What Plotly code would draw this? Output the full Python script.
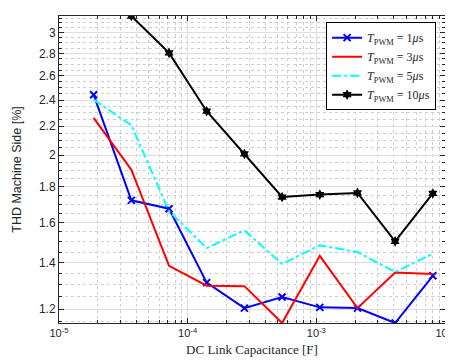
import plotly.graph_objects as go
import numpy as np

# ---- data ----
cap = [1.858e-5, 3.649e-5, 7.166e-5, 1.405e-4, 2.759e-4, 5.418e-4,
       1.064e-3, 2.089e-3, 4.096e-3, 8.04e-3]
thd_1us = [2.443, 1.721, 1.674, 1.310, 1.204, 1.249, 1.207, 1.204, 1.146, 1.340]
thd_3us = [2.262, 1.905, 1.385, 1.297, 1.295, 1.146, 1.432, 1.204, 1.355, 1.348]
thd_5us = [2.403, 2.208, 1.660, 1.469, 1.558, 1.394, 1.483, 1.450, 1.357, 1.442]
cap_10us = cap[1:]
thd_10us = [3.171, 2.806, 2.313, 2.007, 1.740, 1.754, 1.764, 1.502, 1.761]

names = ["<i>T</i><sub>PWM</sub> = 1<i>μ</i>s",
         "<i>T</i><sub>PWM</sub> = 3<i>μ</i>s",
         "<i>T</i><sub>PWM</sub> = 5<i>μ</i>s",
         "<i>T</i><sub>PWM</sub> = 10<i>μ</i>s"]

x_ticks = [1e-5, 1e-4, 1e-3, 1e-2]
x_ticktext = ["10<sup>-5</sup>", "10<sup>-4</sup>", "10<sup>-3</sup>", "10<sup>-2</sup>"]
y_ticks = [1.2, 1.4, 1.6, 1.8, 2.0, 2.2, 2.4, 2.6, 2.8, 3.0]
y_ticktext = ["1.2", "1.4", "1.6", "1.8", "2", "2.2", "2.4", "2.6", "2.8", "3"]
x_minor = [m * 10.0 ** e for e in (-5, -4, -3) for m in range(2, 10)]
y_minor = [round(1.15 + 0.05 * i, 2) for i in range(0, 41)]

fig = go.Figure()
fig.add_trace(go.Scatter(x=cap, y=thd_1us, mode="lines+markers", name=names[0],
                         line=dict(color="#0000ff", width=2),
                         marker=dict(symbol="x-thin", size=7, line=dict(color="#0000ff", width=2))))
fig.add_trace(go.Scatter(x=cap, y=thd_3us, mode="lines", name=names[1],
                         line=dict(color="#ff0000", width=2)))
fig.add_trace(go.Scatter(x=cap, y=thd_5us, mode="lines", name=names[2],
                         line=dict(color="#00ffff", width=2, dash="dashdot")))
fig.add_trace(go.Scatter(x=cap_10us, y=thd_10us, mode="lines+markers", name=names[3],
                         line=dict(color="#000000", width=2),
                         marker=dict(symbol="hexagram", size=8, color="#000000")))

all_y = thd_1us + thd_3us + thd_5us + thd_10us
ymin, ymax = min(all_y), max(all_y)

axcol = "#262626"
fig.update_layout(
    width=453, height=362,
    margin=dict(l=51, r=16, t=8, b=47, autoexpand=False),
    plot_bgcolor="white", paper_bgcolor="white",
    font=dict(family="Liberation Sans, Arial", size=12, color=axcol),
    showlegend=True,
    legend=dict(x=0.977, y=0.98, xanchor="right", yanchor="top",
                bgcolor="white", bordercolor="#000000", borderwidth=1,
                font=dict(family="Liberation Serif, Times New Roman", size=12, color=axcol),
                tracegroupgap=0, itemwidth=30),
    xaxis=dict(type="log", range=[-5, -2], automargin=False,
               tickmode="array", tickvals=x_ticks, ticktext=x_ticktext,
               ticks="inside", ticklen=5, tickcolor=axcol,
               showline=True, linecolor=axcol, linewidth=1, mirror="allticks",
               showgrid=True, gridcolor="#dedede", gridwidth=1,
               zeroline=False,
               tickfont=dict(family="Liberation Sans, Arial", size=11, color=axcol),
               minor=dict(tickmode="array", tickvals=x_minor, ticks="inside", ticklen=3,
                          tickcolor=axcol, showgrid=True, gridcolor="#cfcfcf", griddash="dot"),
               title=dict(text="DC Link Capacitance [F]", standoff=6,
                          font=dict(family="Liberation Serif, Times New Roman", size=13, color=axcol))),
    yaxis=dict(type="log", range=[np.log10(ymin), np.log10(ymax)], automargin=False,
               tickmode="array", tickvals=y_ticks, ticktext=y_ticktext,
               ticks="inside", ticklen=5, tickcolor=axcol,
               showline=True, linecolor=axcol, linewidth=1, mirror="allticks",
               showgrid=True, gridcolor="#dedede", gridwidth=1,
               zeroline=False,
               tickfont=dict(family="Liberation Sans, Arial", size=12, color=axcol),
               minor=dict(tickmode="array", tickvals=y_minor, ticks="inside", ticklen=3,
                          tickcolor=axcol, showgrid=True, gridcolor="#cfcfcf", griddash="dot"),
               title=dict(text="THD Machine Side [%]", standoff=14,
                          font=dict(family="Liberation Sans, Arial", size=12.5, color=axcol))),
)

fig.write_html("out.html")
